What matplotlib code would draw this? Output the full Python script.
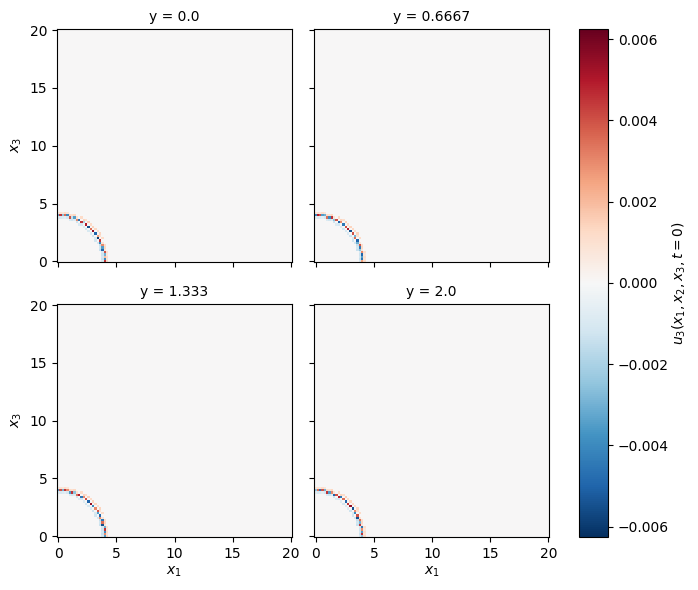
import numpy as np
import matplotlib
matplotlib.use("Agg")
import matplotlib.pyplot as plt

# cell centres of the ring (x1, x3)
ARC_X1 = [0.0, 0.2, 0.4, 0.6, 0.8, 1.0, 1.2, 1.4, 1.6, 1.8, 2.0, 2.2, 2.4, 2.6, 2.8,
          3.0, 3.2, 3.4, 3.4, 3.6, 3.6, 3.8, 3.8, 3.8, 4.0, 4.0, 4.0, 4.0, 4.0]
ARC_X3 = [4.0, 4.0, 4.0, 4.0, 4.0, 3.8, 3.8, 3.8, 3.6, 3.6, 3.4, 3.4, 3.2, 3.0, 2.8,
          2.6, 2.4, 2.2, 2.0, 1.8, 1.6, 1.4, 1.2, 1.0, 0.8, 0.6, 0.4, 0.2, 0.0]

titles = ["y = 0.0", "y = 0.6667", "y = 1.333", "y = 2.0"]

# values along the ring in units of 1e-3
u_y0 = [-3.0, 4.5, -2.5, 3.5, -4.0, 4.0, -1.5, -3.5, 3.0, -4.5, 4.5, -2.0, 5.0, -5.5, 3.5,
        5.5, -5.0, 2.5, -6.0, 4.5, -4.0, 3.0, -3.5, -5.0, 4.0, -3.0, 2.0, -4.0, 4.5]
u_y1 = [-4.0, 5.0, 4.0, -3.5, -3.0, 3.5, -4.0, 4.5, -2.5, 4.0, -5.0, 3.0, -4.5, 4.0, 5.0,
        -5.5, 4.0, -3.0, 3.5, -5.0, -3.0, 4.0, -4.5, -2.5, 3.0, -5.0, -3.5, -4.5, 2.5]
u_y2 = [-3.5, 4.0, -3.0, 4.5, 3.0, -3.5, 4.5, -2.5, 3.5, 5.0, -4.5, 3.0, 4.0, -5.0, 5.5,
        -4.0, 3.0, 4.0, -3.5, -5.0, 3.0, -4.5, 3.5, -5.5, -3.0, 4.5, -4.0, 3.0, -3.5]
u_y3 = [-2.5, 3.5, -4.5, 4.0, -3.0, 4.5, -3.5, 3.0, -5.0, 4.0, 5.0, -4.5, 3.5, -5.0, 4.5,
        5.5, -5.5, 3.0, -4.0, 4.0, -5.5, 3.5, -3.0, 4.5, -4.5, 3.0, -3.5, 4.5, -2.5]
panels = [u_y0, u_y1, u_y2, u_y3]

# pale fringe on either side of the ring, same units
fringe_out = [0.6, 0.9, 0.7, 1.1, 0.8, 1.2, 1.0, 1.3, 0.9, 1.2, 1.4, 1.1, 1.5, 1.2, 1.4,
              1.3, 1.1, 1.4, 1.0, 1.2, 0.9, 1.1, 1.3, 0.8, 1.0, 0.7, 1.1, 0.9, 1.2]
fringe_in = [-0.7, -1.0, -0.8, -0.6, -1.1, -0.9, -1.2, -0.8, -1.0, -1.3, -0.9, -1.1, -0.8, -1.2, -1.0,
             -0.9, -1.3, -1.0, -1.2, -1.4, -1.1, -1.5, -1.2, -1.4, -1.0, -1.3, -1.1, -1.4, -1.0]

STEP = 0.2
VMAX = 0.00625


def build_field(values):
    """Zero field on the x1/x3 grid with the ring cells filled in."""
    field = np.zeros((101, 101))
    x1, x3 = np.array(ARC_X1), np.array(ARC_X3)
    for scale, vals in ((1.06, fringe_out), (0.94, fringe_in), (1.0, values)):
        i = np.rint(x1 * scale / STEP).astype(int)
        j = np.rint(x3 * scale / STEP).astype(int)
        field[j, i] = np.array(vals) * 1e-3
    return field


grid = np.arange(101) * STEP

fig, axes = plt.subplots(2, 2, figsize=(6.98, 5.9), sharex=True, sharey=True)
fig.subplots_adjust(left=0.0817, right=0.7865, top=0.951, bottom=0.09, wspace=0.098, hspace=0.18)

for ax, title, values in zip(axes.flat, titles, panels):
    mesh = ax.pcolormesh(grid, grid, build_field(values), cmap="RdBu_r", vmin=-VMAX, vmax=VMAX)
    ax.set_title(title, fontsize=10)
    ax.set_xticks([0, 5, 10, 15, 20])
    ax.set_yticks([0, 5, 10, 15, 20])
    ax.set_xlim(-0.1, 20.05)
    ax.set_ylim(-0.05, 20.1)

for ax in axes[:, 0]:
    ax.set_ylabel("$x_3$")
for ax in axes[1, :]:
    ax.set_xlabel("$x_1$", labelpad=3)

cax = fig.add_axes([0.8295, 0.09, 0.0415, 0.861])
cbar = fig.colorbar(mesh, cax=cax)
cbar.set_ticks([-0.006, -0.004, -0.002, 0.0, 0.002, 0.004, 0.006])
cbar.set_label("$u_3(x_1, x_2, x_3, t=0)$", labelpad=1)

fig.savefig("out.png", dpi=100)
